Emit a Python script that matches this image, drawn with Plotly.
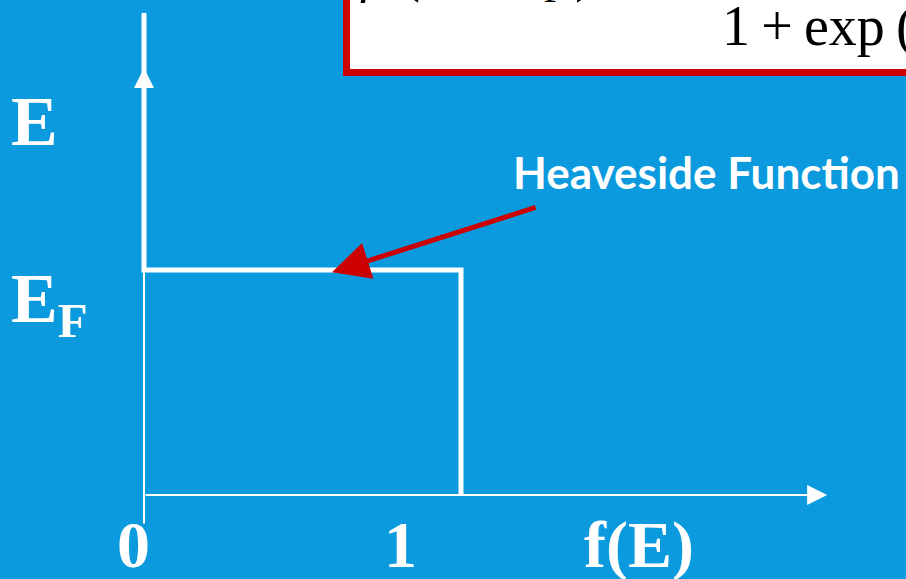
import plotly.graph_objects as go

# Fermi-Dirac occupation at T = 0 (step / Heaviside form), f on x, E on y (E in units of E_F)
f_step = [1, 1, 0, 0]
E_step = [0, 1, 1, 2.142]

# axis extents (same units as the data)
f_axis_end = 2.155
E_axis_bottom = -0.133
E_axis_arrow = 1.898

# tick labels
f_tick_vals = [0, 1]
f_tick_text = ["0", "1"]
E_tick_vals = [1]
E_tick_text = ["E<sub>F</sub>"]
E_title_pos = 1.66
f_title_pos = 1.56

# pointer to the step edge
pointer_tail = (1.240, 1.280)
pointer_head = (0.593, 0.990)

# label offsets in pixels
f_label_shift = [-11, -61]

BG = "#0b9ade"
RED = "#cc0000"
SERIF = "Liberation Serif, Times New Roman, serif"

fig = go.Figure()

fig.add_trace(go.Scatter(
    x=f_step, y=E_step, mode="lines",
    line=dict(color="white", width=5), hoverinfo="skip", showlegend=False,
))

annotations = []

# axes drawn as arrows
annotations.append(dict(
    x=f_axis_end, y=0, ax=0, ay=0, xref="x", yref="y", axref="x", ayref="y",
    text="", showarrow=True, arrowhead=2, arrowsize=2.0, arrowwidth=2, arrowcolor="white",
))
annotations.append(dict(
    x=0, y=E_axis_arrow, ax=0, ay=E_axis_bottom, xref="x", yref="y", axref="x", ayref="y",
    text="", showarrow=True, arrowhead=2, arrowsize=2.0, arrowwidth=2, arrowcolor="white",
))

# tick labels on the f axis
for v, t, s in zip(f_tick_vals, f_tick_text, f_label_shift):
    annotations.append(dict(
        x=v, y=-0.222, xref="x", yref="y", xshift=s, text=f"<b>{t}</b>", showarrow=False,
        font=dict(family=SERIF, size=66, color="white"), xanchor="center", yanchor="middle",
    ))
annotations.append(dict(
    x=f_title_pos, y=-0.222, xref="x", yref="y", text="<b>f(E)</b>", showarrow=False,
    font=dict(family=SERIF, size=66, color="white"), xanchor="center", yanchor="middle",
))

# labels on the E axis
for v, t in zip(E_tick_vals, E_tick_text):
    annotations.append(dict(
        x=-0.425, y=v - 0.15, xref="x", yref="y", text=f"<b>{t}</b>", showarrow=False,
        font=dict(family=SERIF, size=70, color="white"), xanchor="left", yanchor="middle",
    ))
annotations.append(dict(
    x=-0.425, y=E_title_pos, xref="x", yref="y", text="<b>E</b>", showarrow=False,
    font=dict(family=SERIF, size=70, color="white"), xanchor="left", yanchor="middle",
))

# pointer arrow and its caption
annotations.append(dict(
    x=pointer_head[0], y=pointer_head[1], ax=pointer_tail[0], ay=pointer_tail[1],
    xref="x", yref="y", axref="x", ayref="y", text="", showarrow=True,
    arrowhead=2, arrowsize=1.5, arrowwidth=5, arrowcolor=RED,
))
annotations.append(dict(
    x=1.773, y=1.436, xref="x", yref="y", text="<b>Heaveside Function</b>", showarrow=False,
    font=dict(family="Comic Sans MS, Lato, sans-serif", size=44, color="white"),
    xanchor="center", yanchor="middle",
))

# formula box (partly off the page)
annotations.append(dict(
    x=358 / 906, y=1 + 23 / 579, xref="paper", yref="paper",
    text="<i>f</i>\u2002(<i>E</i> − <i>E</i><sub>F</sub>\u2009) =", showarrow=False,
    font=dict(family=SERIF, size=54, color="black"), xanchor="left", yanchor="middle",
))
annotations.append(dict(
    x=720 / 906, y=1 - 30 / 579, xref="paper", yref="paper",
    text="1\u2009+\u2009exp\u2009((<i>E</i> − <i>E</i><sub>F</sub>)/<i>kT</i>)", showarrow=False,
    font=dict(family=SERIF, size=56, color="black"), xanchor="left", yanchor="middle",
))

fig.update_layout(
    width=906, height=579,
    margin=dict(l=0, r=0, t=0, b=0),
    paper_bgcolor=BG, plot_bgcolor=BG,
    xaxis=dict(range=[-144 / 317, 762 / 317], visible=False, fixedrange=True),
    yaxis=dict(range=[-84 / 225, 495 / 225], visible=False, fixedrange=True),
    shapes=[dict(
        type="rect", xref="paper", yref="paper",
        x0=346.5 / 906, y0=1 - 72.5 / 579, x1=1.1, y1=1.1,
        line=dict(color=RED, width=7), fillcolor="white", layer="above",
    )],
    annotations=annotations,
    showlegend=False,
)

fig.write_html("out.html")
